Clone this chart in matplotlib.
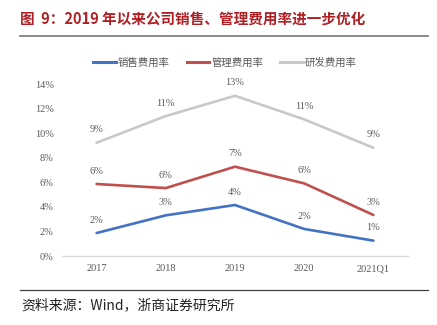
import matplotlib
matplotlib.use("Agg")
import matplotlib.pyplot as plt
from matplotlib.lines import Line2D

plt.rcParams['font.family'] = ['Noto Sans CJK SC', 'DejaVu Sans']

categories = ["2017", "2018", "2019", "2020", "2021Q1"]
sales_rate = [1.87, 3.31, 4.15, 2.20, 1.25]
admin_rate = [5.86, 5.53, 7.27, 5.91, 3.34]
rd_rate = [9.22, 11.39, 13.04, 11.12, 8.81]
yticks = [0, 2, 4, 6, 8, 10, 12, 14]

series = [
    ("销售费用率", sales_rate, "#4472C4"),
    ("管理费用率", admin_rate, "#C0504D"),
    ("研发费用率", rd_rate, "#C9C9C9"),
]

W, H = 437, 325
fig = plt.figure(figsize=(W / 100, H / 100), dpi=100)
ax = fig.add_axes([62 / W, 1 - 256 / H, (408 - 62) / W, (256 - 84) / H])

x = list(range(len(categories)))
for name, vals, color in series:
    ax.plot(x, vals, color=color, lw=1.9, solid_capstyle="round")
    for xi, v in zip(x, vals):
        ax.annotate(f"{round(v):.0f}%", (xi, v), xytext=(0, 6), textcoords="offset points",
                    ha="center", va="bottom", fontsize=7.5, color="#595959",
                    family=["Liberation Serif"])

ax.set_xlim(-0.5, len(categories) - 0.5)
ax.set_ylim(0, 14)
ax.set_yticks(yticks)
ax.set_yticklabels([f"{t}%" for t in yticks], family=["Liberation Serif"], fontsize=7.5, color="#595959")
ax.set_xticks(x)
ax.set_xticklabels(categories, family=["Liberation Serif"], fontsize=7.5, color="#595959")
ax.tick_params(length=0)
ax.tick_params(axis="x", pad=6)
ax.tick_params(axis="y", pad=6)
for side in ["top", "right", "left"]:
    ax.spines[side].set_visible(False)
ax.spines["bottom"].set_color("#D9D9D9")
ax.spines["bottom"].set_linewidth(1.0)

handles = [Line2D([0], [0], color=c, lw=2.2) for _, _, c in series]
fig.legend(handles, [n for n, _, _ in series], loc="center", bbox_to_anchor=(225 / W, 1 - 63 / H),
           ncol=3, frameon=False, fontsize=7.5, labelcolor="#595959", handlelength=2.2,
           columnspacing=1.6, handletextpad=0.2)

fig.text(20 / W, 1 - 20 / H, "图  9：2019 年以来公司销售、管理费用率进一步优化",
         fontsize=10.5, fontweight="bold", color="#B01F24", ha="left", va="center")
fig.add_artist(Line2D([20 / W, 428 / W], [1 - 35.5 / H, 1 - 35.5 / H], color="#808080", lw=1.3))
fig.add_artist(Line2D([20 / W, 428 / W], [1 - 290 / H, 1 - 290 / H], color="#404040", lw=0.9))
fig.text(21 / W, 1 - 305 / H, "资料来源：Wind，浙商证券研究所", fontsize=10, color="#222222",
         ha="left", va="center")

fig.savefig("out.png", dpi=100)
